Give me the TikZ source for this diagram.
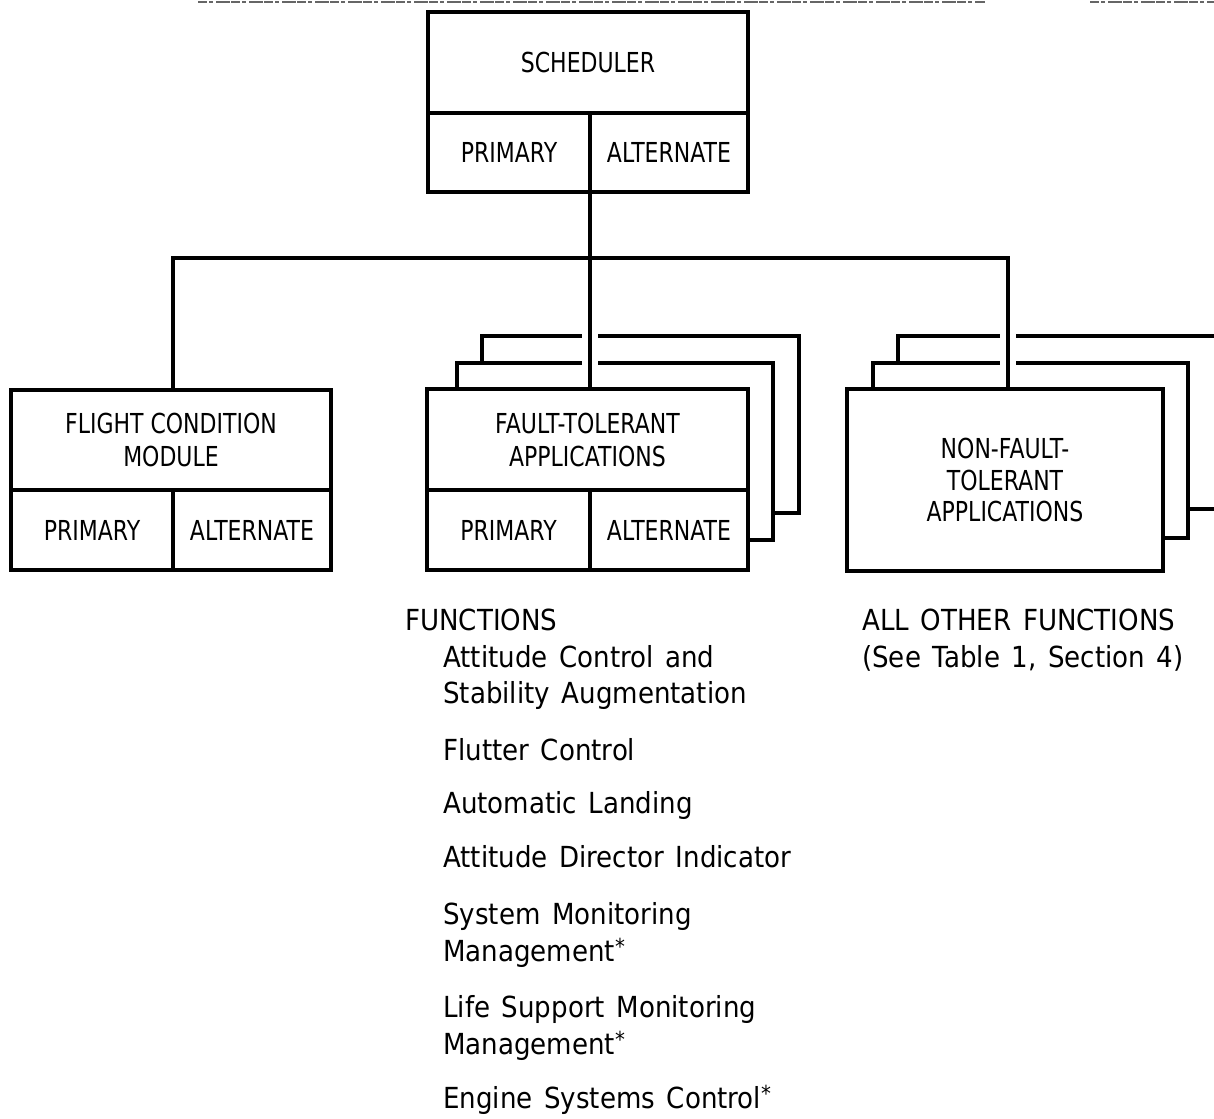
\documentclass[tikz,border=0pt]{standalone}
\usepackage{fontspec}
\setmainfont{DejaVu Sans}
\newfontfamily\listfont[FakeStretch=0.9, WordSpace=1.4]{DejaVu Sans}
\newfontfamily\cellfont[FakeStretch=0.8]{DejaVu Sans}
\newcommand\fnstar{\raisebox{7pt}{\fontsize{22}{22}\selectfont *}}

\tikzset{
  wire/.style={line width=3.5pt, line cap=rect},
  halo/.style={draw=white, line width=16pt},
  cell/.style={draw, line width=3.5pt, fill=white, inner sep=0pt, align=center,
    font=\cellfont\fontsize{27.5}{33}\selectfont},
  sheet/.style={draw, line width=3.5pt, fill=white, inner sep=0pt},
  listtext/.style={anchor=base west, inner sep=0pt,
    font=\listfont\fontsize{29}{36}\selectfont},
  scanedge/.style={draw=black!60, line width=2pt,
    dash pattern=on 9pt off 2pt on 4pt off 3pt on 14pt off 1pt}
}

\begin{document}
\begin{tikzpicture}[x=1pt, y=-1pt]
\useasboundingbox (0,0) rectangle (1214,1118);
\clip (0,0) rectangle (1214,1118);

% grainy edge along the top of the sheet
\path[scanedge] (198,2) -- (985,2);
\path[scanedge] (1090,2) -- (1214,2);

% stacked sheets behind the application modules
\node[sheet, minimum width=317pt, minimum height=177pt] (ftb2) at (640.5,424.5) {};
\node[sheet, minimum width=316pt, minimum height=177pt] (ftb1) at (615,451.5) {};
\node[sheet, minimum width=330pt, minimum height=173pt] (nftb2) at (1063,422.5) {};
\node[sheet, minimum width=315pt, minimum height=175pt] (nftb1) at (1030.5,450.5) {};

% scheduler
\node[cell, minimum width=320pt, minimum height=101pt] (sched) at (588,62.5) {SCHEDULER};
\node[cell, minimum width=162pt, minimum height=79pt] (schedP) at (509,152.5) {PRIMARY};
\node[cell, minimum width=158pt, minimum height=79pt] (schedA) at (669,152.5) {ALTERNATE};

% junction points on the distribution bus
\coordinate (jl) at (173,258);
\coordinate (jc) at (590,258);
\coordinate (jr) at (1008,258);

% tops of the front boxes, where the drops end
\coordinate (fttop) at (587.5,389);
\coordinate (nfttop) at (1005,389);
\coordinate (fcmtop) at (171,390);

% gaps where the drops pass the stacked sheets
\path[halo] (jc) -- (jc |- fttop);
\path[halo] (jr) -- (jr |- nfttop);

% connectors
\draw[wire] (jc |- schedP.south) -- (jc) -- (jc |- fttop);
\draw[wire] (jl |- fcmtop) -- (jl) -- (jr) -- (jr |- nfttop);

% flight condition module
\node[cell, minimum width=320pt, minimum height=100pt] (fcm) at (171,440) {FLIGHT CONDITION\\MODULE};
\node[cell, minimum width=162pt, minimum height=80pt] (fcmP) at (92,530) {PRIMARY};
\node[cell, minimum width=158pt, minimum height=80pt] (fcmA) at (252,530) {ALTERNATE};

% fault-tolerant applications
\node[cell, minimum width=321pt, minimum height=101pt] (ft) at (587.5,439.5) {FAULT-TOLERANT\\APPLICATIONS};
\node[cell, minimum width=163pt, minimum height=80pt] (ftP) at (508.5,530) {PRIMARY};
\node[cell, minimum width=158pt, minimum height=80pt] (ftA) at (669,530) {ALTERNATE};

% non-fault-tolerant applications
\node[cell, minimum width=316pt, minimum height=182pt,
  font=\cellfont\fontsize{27.5}{31.5}\selectfont] (nft) at (1005,480)
  {NON-FAULT-\\TOLERANT\\APPLICATIONS};

% function lists
\node[listtext] (fhead) at (405,630) {FUNCTIONS};
\node[listtext] (f1a) at (443,667) {Attitude Control and};
\node[listtext] (f1b) at (443,703) {Stability Augmentation};
\node[listtext] (f2) at (443,760) {Flutter Control};
\node[listtext] (f3) at (443,813) {Automatic Landing};
\node[listtext] (f4) at (443,867) {Attitude Director Indicator};
\node[listtext] (f5a) at (443,924) {System Monitoring};
\node[listtext] (f5b) at (443,961) {Management\fnstar};
\node[listtext] (f6a) at (443,1017) {Life Support Monitoring};
\node[listtext] (f6b) at (443,1054) {Management\fnstar};
\node[listtext] (f7) at (443,1108) {Engine Systems Control\fnstar};

\node[listtext] (ohead) at (862,630) {ALL OTHER FUNCTIONS};
\node[listtext] (oref) at (862,667) {(See Table 1,\ Section 4)};
\end{tikzpicture}
\end{document}
